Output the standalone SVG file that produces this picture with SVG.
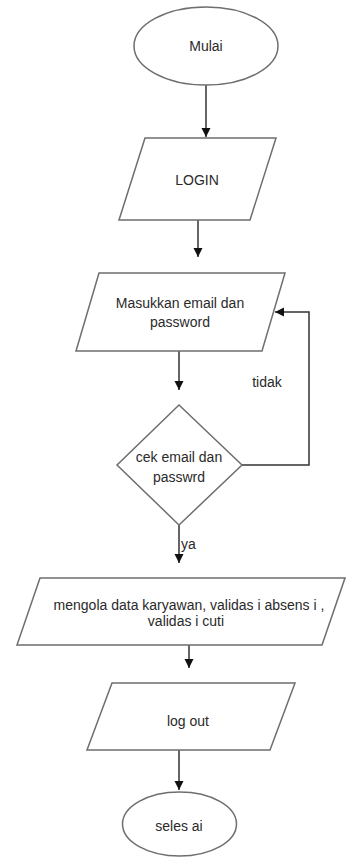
<svg xmlns="http://www.w3.org/2000/svg" width="346" height="858" viewBox="0 0 346 858">
<defs>
<style>
.shape{fill:#fff;stroke:#6e6e6e;stroke-width:1.5}
.conn{fill:none;stroke:#333;stroke-width:1.5}
text{font-family:"Liberation Sans",Arial,sans-serif;font-size:14px;fill:#2a2a2a;text-anchor:middle}
.lbl{text-anchor:start}
</style>
<marker id="arr" markerUnits="userSpaceOnUse" markerWidth="10" markerHeight="10" refX="9" refY="5" orient="auto">
<path d="M0,0.5 L9,5 L0,9.5 z" fill="#111"/>
</marker>
</defs>
<rect width="346" height="858" fill="#fff"/>
<g id="connectors">
<path class="conn" d="M206,85 V137" marker-end="url(#arr)"/>
<path class="conn" d="M198,220 V257" marker-end="url(#arr)"/>
<path class="conn" d="M179,351 V390" marker-end="url(#arr)"/>
<path class="conn" d="M179,525 V563" marker-end="url(#arr)"/>
<path class="conn" d="M242,465 H309 V312 H275" marker-end="url(#arr)"/>
<path class="conn" d="M189,645 V668" marker-end="url(#arr)"/>
<path class="conn" d="M179,750 V790" marker-end="url(#arr)"/>
<text class="lbl" x="181" y="549">ya</text>
<text x="267" y="387">tidak</text>
</g>
<g id="mulai">
<ellipse class="shape" cx="206" cy="46" rx="72" ry="39"/>
<text x="206" y="51">Mulai</text>
</g>
<g id="login">
<polygon class="shape" points="145,138 276,138 250,220 119,220"/>
<text x="197" y="185">LOGIN</text>
</g>
<g id="masukkan">
<polygon class="shape" points="99,273 285,273 262,351 76,351"/>
<text x="180" y="308">Masukkan email dan</text>
<text x="180" y="327">password</text>
</g>
<g id="cek">
<polygon class="shape" points="179,405 242,465 179,525 117,465"/>
<text x="179" y="462">cek email dan</text>
<text x="179" y="482">passwrd</text>
</g>
<g id="mengola">
<polygon class="shape" points="40,578 345,578 322,645 17,645"/>
<text x="189" y="610">mengola data karyawan, validas i absens i ,</text>
<text x="186" y="626">validas i cuti</text>
</g>
<g id="logout">
<polygon class="shape" points="112,683 295,683 270,750 87,750"/>
<text x="188" y="726">log out</text>
</g>
<g id="selesai">
<ellipse class="shape" cx="179.5" cy="824" rx="57" ry="32"/>
<text x="179" y="831">seles ai</text>
</g>
</svg>
